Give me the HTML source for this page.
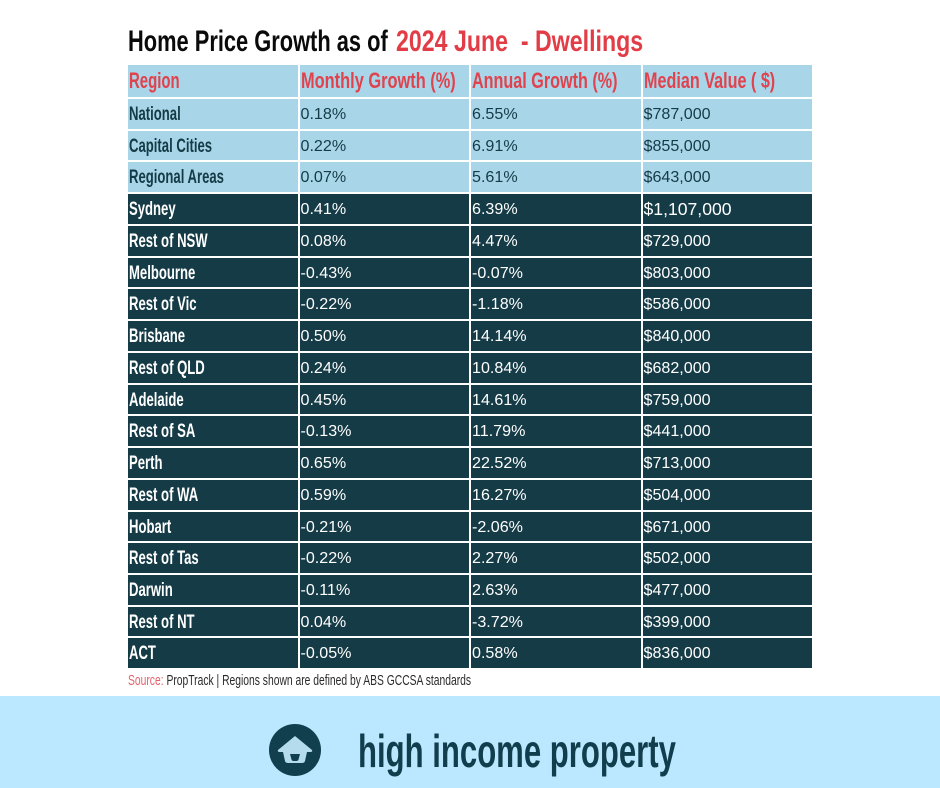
<!DOCTYPE html>
<html lang="en">
<head>
<meta charset="utf-8">
<title>Home Price Growth as of 2024 June - Dwellings</title>
<style>
html,body{margin:0;padding:0;background:#fff}
#page{position:relative;width:940px;height:788px;overflow:hidden;background:#fff;font-family:"Liberation Sans",sans-serif}
.t{position:absolute;white-space:pre;transform-origin:0 0}
#title-a,#title-b{top:25px;font-size:30px;line-height:34px;font-weight:bold}
#title-a{left:128px;color:#0a0a0a;transform:scaleX(.728)}
#title-b{left:396px;color:#e23d47;transform:scaleX(.772)}
#grid{position:absolute;left:128px;top:65px;width:684px;display:grid;grid-template-columns:169.5px 169.5px 169.5px 169.5px;column-gap:2px;row-gap:2px;grid-template-rows:32px repeat(18,29.74px)}
.c{overflow:visible;white-space:pre;padding-left:1px;font-size:16.1px;line-height:31px}
.lt{background:#a8d5e8;color:#143b46}
.dk{background:#143b46;color:#fff}
.h{background:#a8d5e8;color:#e0434e;font-size:22px;font-weight:bold;line-height:31px}
.h span{display:inline-block;transform-origin:0 50%;transform:scaleX(.735)}
.h.first span{transform:scaleX(.68)}
.h.mid span{transform:scaleX(.745)}
.r{font-size:19px;font-weight:bold;line-height:32px}
.r span{display:inline-block;transform-origin:0 50%;transform:scaleX(.69)}
#source{left:128px;top:672px;font-size:15px;line-height:18px;color:#2a2a2a;transform:scaleX(.688)}
#source b{font-weight:normal;color:#e8606a}
#footer{position:absolute;left:0;top:696px;width:940px;height:92px;background:#bbe8ff}
#brand{left:358px;top:724px;font-size:46px;line-height:54px;font-weight:bold;color:#123d4c;transform:scaleX(.676)}
#logo{position:absolute;left:269px;top:724px}
</style>
</head>
<body>
<div id="page">
<div id="title-a" class="t">Home Price Growth as of </div>
<div id="title-b" class="t">2024 June  - Dwellings</div>

<div id="grid">
<div class="c h first"><span>Region</span></div><div class="c h mid"><span>Monthly Growth (%)</span></div><div class="c h"><span>Annual Growth (%)</span></div><div class="c h"><span>Median Value ( $)</span></div>

<div class="c lt r"><span>National</span></div><div class="c lt">0.18%</div><div class="c lt">6.55%</div><div class="c lt">$787,000</div>
<div class="c lt r"><span>Capital Cities</span></div><div class="c lt">0.22%</div><div class="c lt">6.91%</div><div class="c lt">$855,000</div>
<div class="c lt r"><span>Regional Areas</span></div><div class="c lt">0.07%</div><div class="c lt">5.61%</div><div class="c lt">$643,000</div>

<div class="c dk r"><span>Sydney</span></div><div class="c dk">0.41%</div><div class="c dk">6.39%</div><div class="c dk" style="font-size:17.6px;line-height:31px">$1,107,000</div>
<div class="c dk r"><span>Rest of NSW</span></div><div class="c dk">0.08%</div><div class="c dk">4.47%</div><div class="c dk">$729,000</div>
<div class="c dk r"><span>Melbourne</span></div><div class="c dk">-0.43%</div><div class="c dk">-0.07%</div><div class="c dk">$803,000</div>
<div class="c dk r"><span>Rest of Vic</span></div><div class="c dk">-0.22%</div><div class="c dk">-1.18%</div><div class="c dk">$586,000</div>
<div class="c dk r"><span>Brisbane</span></div><div class="c dk">0.50%</div><div class="c dk">14.14%</div><div class="c dk">$840,000</div>
<div class="c dk r"><span>Rest of QLD</span></div><div class="c dk">0.24%</div><div class="c dk">10.84%</div><div class="c dk">$682,000</div>
<div class="c dk r"><span>Adelaide</span></div><div class="c dk">0.45%</div><div class="c dk">14.61%</div><div class="c dk">$759,000</div>
<div class="c dk r"><span>Rest of SA</span></div><div class="c dk">-0.13%</div><div class="c dk">11.79%</div><div class="c dk">$441,000</div>
<div class="c dk r"><span>Perth</span></div><div class="c dk">0.65%</div><div class="c dk">22.52%</div><div class="c dk">$713,000</div>
<div class="c dk r"><span>Rest of WA</span></div><div class="c dk">0.59%</div><div class="c dk">16.27%</div><div class="c dk">$504,000</div>
<div class="c dk r"><span>Hobart</span></div><div class="c dk">-0.21%</div><div class="c dk">-2.06%</div><div class="c dk">$671,000</div>
<div class="c dk r"><span>Rest of Tas</span></div><div class="c dk">-0.22%</div><div class="c dk">2.27%</div><div class="c dk">$502,000</div>
<div class="c dk r"><span>Darwin</span></div><div class="c dk">-0.11%</div><div class="c dk">2.63%</div><div class="c dk">$477,000</div>
<div class="c dk r"><span>Rest of NT</span></div><div class="c dk">0.04%</div><div class="c dk">-3.72%</div><div class="c dk">$399,000</div>
<div class="c dk r"><span>ACT</span></div><div class="c dk">-0.05%</div><div class="c dk">0.58%</div><div class="c dk">$836,000</div>
</div>

<div id="source" class="t"><b>Source:</b> PropTrack | Regions shown are defined by ABS GCCSA standards</div>

<div id="footer"></div>
<svg id="logo" width="52" height="52" viewBox="0 0 52 52">
<circle cx="26" cy="26" r="26" fill="#123f4d"/>
<path d="M26 12 L43 26 Q44 28 41 28 L38 28 L36 37 Q35.500 39 33 39 L19 39 Q16.500 39 16 37 L14 28 L11 28 Q8 28 9 26 Z" fill="#b5dcec"/>
<path d="M21 30 L31 30 L29.500 35.500 Q29 37 27.500 37 L24.500 37 Q23 37 22.500 35.500 Z" fill="#123f4d"/>
</svg>
<div id="brand" class="t">high income property</div>
</div>
</body>
</html>
